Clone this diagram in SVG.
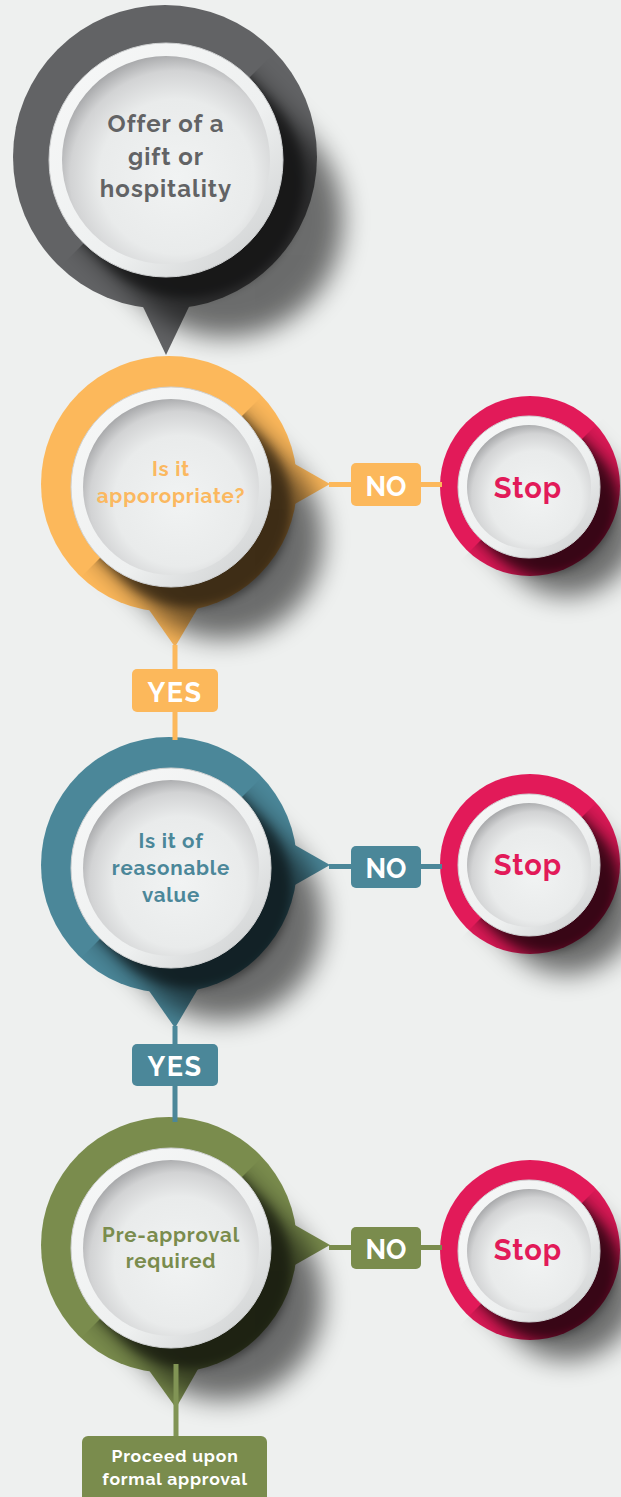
<svg xmlns="http://www.w3.org/2000/svg" width="621" height="1497" viewBox="0 0 621 1497">
  <defs>
    <style>
      .t { font-family: Raleway, "Open Sans", "Liberation Sans", sans-serif; font-weight: 700; text-anchor: middle; }
      .lbl { fill: #ffffff; }
      .ring { fill: url(#ringGrad); stroke: #cfd1d2; stroke-width: 1; }
      .face { fill: url(#faceGrad); }
      .shadowA { fill: #000; opacity: 0.55; }
      .shadowB { fill: #000; opacity: 0.45; }
      .conn { stroke-width: 5; fill: none; }
    </style>
    <filter id="blurL" x="-50%" y="-50%" width="200%" height="200%"><feGaussianBlur stdDeviation="13"/></filter>
    <filter id="blurS" x="-50%" y="-50%" width="200%" height="200%"><feGaussianBlur stdDeviation="5"/></filter>
    <radialGradient id="faceGrad" cx="55%" cy="58%" r="60%">
      <stop offset="0" stop-color="#f1f3f3"/>
      <stop offset="0.62" stop-color="#e9ebeb"/>
      <stop offset="0.85" stop-color="#d2d3d4"/>
      <stop offset="1" stop-color="#a4a5a7"/>
    </radialGradient>
    <linearGradient id="ringGrad" x1="0" y1="0" x2="1" y2="1">
      <stop offset="0" stop-color="#f7f8f8"/>
      <stop offset="0.6" stop-color="#eef0f0"/>
      <stop offset="1" stop-color="#c9cbcc"/>
    </linearGradient>
    <clipPath id="clipDiag" clipPathUnits="userSpaceOnUse">
      <polygon points="-500,505 505,-500 800,800"/>
    </clipPath>
  </defs>

  <rect x="0" y="0" width="621" height="1497" fill="#eef0ef"/>

  <!-- Start node -->
  <g id="node-offer" transform="translate(165,157)">
    <circle cx="0" cy="0" r="152" fill="#626365"/>
    <polygon points="-30,133 32,133 1,198" fill="#626365"/>
    <g clip-path="url(#clipDiag)">
      <g class="shadowA" filter="url(#blurL)">
        <circle cx="1" cy="3" r="117"/>
        <circle cx="61" cy="63" r="117"/>
        <polygon points="83.7,-79.7 -81.7,85.7 -21.7,145.7 143.7,-19.7"/>
      </g>
      <g class="shadowB" filter="url(#blurS)">
        <circle cx="1" cy="3" r="117"/>
        <circle cx="22" cy="24" r="117"/>
        <polygon points="83.7,-79.7 -81.7,85.7 -60.7,106.7 104.7,-58.7"/>
      </g>
    </g>
    <circle class="ring" cx="1" cy="3" r="117"/>
    <circle class="face" cx="1" cy="3" r="104"/>
    <text class="t" x="1" y="-25" font-size="24" fill="#626365" letter-spacing="1">Offer of a</text>
    <text class="t" x="1" y="8" font-size="24" fill="#626365" letter-spacing="1">gift or</text>
    <text class="t" x="1" y="40" font-size="24" fill="#626365" letter-spacing="1">hospitality</text>
  </g>

  <!-- Decision 1 -->
  <g id="node-appropriate" transform="translate(169,484)">
    <circle cx="0" cy="0" r="128" fill="#fcb85b"/>
    <polygon points="110,-29 161,0 110,29" fill="#fcb85b"/>
    <polygon points="-31,110 37,110 6,163" fill="#fcb85b"/>
    <g clip-path="url(#clipDiag)">
      <g class="shadowA" filter="url(#blurL)">
        <circle cx="2" cy="3" r="100"/>
        <circle cx="54" cy="55" r="100"/>
        <polygon points="72.7,-67.7 -68.7,73.7 -16.7,125.7 124.7,-15.7"/>
      </g>
      <g class="shadowB" filter="url(#blurS)">
        <circle cx="2" cy="3" r="100"/>
        <circle cx="22" cy="23" r="100"/>
        <polygon points="72.7,-67.7 -68.7,73.7 -48.7,93.7 92.7,-47.7"/>
      </g>
    </g>
    <circle class="ring" cx="2" cy="3" r="100"/>
    <circle class="face" cx="2" cy="3" r="88"/>
    <text class="t" x="2" y="-8" font-size="20.5" fill="#fbb860" letter-spacing="0.8">Is it</text>
    <text class="t" x="2" y="19" font-size="20.5" fill="#fbb860" letter-spacing="0.8">apporopriate?</text>
  </g>

  <!-- Decision 2 -->
  <g id="node-value" transform="translate(169,865)">
    <circle cx="0" cy="0" r="128" fill="#4b8799"/>
    <polygon points="110,-29 161,0 110,29" fill="#4b8799"/>
    <polygon points="-31,110 37,110 6,163" fill="#4b8799"/>
    <g clip-path="url(#clipDiag)">
      <g class="shadowA" filter="url(#blurL)">
        <circle cx="2" cy="3" r="100"/>
        <circle cx="54" cy="55" r="100"/>
        <polygon points="72.7,-67.7 -68.7,73.7 -16.7,125.7 124.7,-15.7"/>
      </g>
      <g class="shadowB" filter="url(#blurS)">
        <circle cx="2" cy="3" r="100"/>
        <circle cx="22" cy="23" r="100"/>
        <polygon points="72.7,-67.7 -68.7,73.7 -48.7,93.7 92.7,-47.7"/>
      </g>
    </g>
    <circle class="ring" cx="2" cy="3" r="100"/>
    <circle class="face" cx="2" cy="3" r="88"/>
    <text class="t" x="2" y="-17" font-size="20.5" fill="#4b8799" letter-spacing="0.8">Is it of</text>
    <text class="t" x="2" y="10" font-size="20.5" fill="#4b8799" letter-spacing="0.8">reasonable</text>
    <text class="t" x="2" y="37" font-size="20.5" fill="#4b8799" letter-spacing="0.8">value</text>
  </g>

  <!-- Decision 3 -->
  <g id="node-preapproval" transform="translate(169,1245)">
    <circle cx="0" cy="0" r="128" fill="#7a8c4d"/>
    <polygon points="110,-29 161,0 110,29" fill="#7a8c4d"/>
    <polygon points="-31,110 37,110 7,163" fill="#7a8c4d"/>
    <g clip-path="url(#clipDiag)">
      <g class="shadowA" filter="url(#blurL)">
        <circle cx="2" cy="3" r="100"/>
        <circle cx="54" cy="55" r="100"/>
        <polygon points="72.7,-67.7 -68.7,73.7 -16.7,125.7 124.7,-15.7"/>
      </g>
      <g class="shadowB" filter="url(#blurS)">
        <circle cx="2" cy="3" r="100"/>
        <circle cx="22" cy="23" r="100"/>
        <polygon points="72.7,-67.7 -68.7,73.7 -48.7,93.7 92.7,-47.7"/>
      </g>
    </g>
    <circle class="ring" cx="2" cy="3" r="100"/>
    <circle class="face" cx="2" cy="3" r="88"/>
    <text class="t" x="2" y="-3" font-size="20.5" fill="#7a8c4d" letter-spacing="0.8">Pre-approval</text>
    <text class="t" x="2" y="23" font-size="20.5" fill="#7a8c4d" letter-spacing="0.8">required</text>
  </g>

  <!-- Stop nodes -->
  <g id="node-stop-1" transform="translate(530,486)">
    <circle cx="0" cy="0" r="90" fill="#e21a59"/>
    <g clip-path="url(#clipDiag)">
      <g class="shadowA" filter="url(#blurL)">
        <circle cx="-1" cy="1" r="71"/>
        <circle cx="37" cy="39" r="71"/>
        <polygon points="49.2,-49.2 -51.2,51.2 -13.2,89.2 87.2,-11.2"/>
      </g>
      <g class="shadowB" filter="url(#blurS)">
        <circle cx="-1" cy="1" r="71"/>
        <circle cx="14" cy="16" r="71"/>
        <polygon points="49.2,-49.2 -51.2,51.2 -36.2,66.2 64.2,-34.2"/>
      </g>
    </g>
    <circle class="ring" cx="-1" cy="1" r="71"/>
    <circle class="face" cx="-1" cy="1" r="62"/>
    <text class="t" x="-2" y="12" font-size="29" fill="#e21a59" letter-spacing="1">Stop</text>
  </g>

  <g id="node-stop-2" transform="translate(530,864)">
    <circle cx="0" cy="0" r="90" fill="#e21a59"/>
    <g clip-path="url(#clipDiag)">
      <g class="shadowA" filter="url(#blurL)">
        <circle cx="-1" cy="1" r="71"/>
        <circle cx="37" cy="39" r="71"/>
        <polygon points="49.2,-49.2 -51.2,51.2 -13.2,89.2 87.2,-11.2"/>
      </g>
      <g class="shadowB" filter="url(#blurS)">
        <circle cx="-1" cy="1" r="71"/>
        <circle cx="14" cy="16" r="71"/>
        <polygon points="49.2,-49.2 -51.2,51.2 -36.2,66.2 64.2,-34.2"/>
      </g>
    </g>
    <circle class="ring" cx="-1" cy="1" r="71"/>
    <circle class="face" cx="-1" cy="1" r="62"/>
    <text class="t" x="-2" y="11" font-size="29" fill="#e21a59" letter-spacing="1">Stop</text>
  </g>

  <g id="node-stop-3" transform="translate(530,1250)">
    <circle cx="0" cy="0" r="90" fill="#e21a59"/>
    <g clip-path="url(#clipDiag)">
      <g class="shadowA" filter="url(#blurL)">
        <circle cx="-1" cy="1" r="71"/>
        <circle cx="37" cy="39" r="71"/>
        <polygon points="49.2,-49.2 -51.2,51.2 -13.2,89.2 87.2,-11.2"/>
      </g>
      <g class="shadowB" filter="url(#blurS)">
        <circle cx="-1" cy="1" r="71"/>
        <circle cx="14" cy="16" r="71"/>
        <polygon points="49.2,-49.2 -51.2,51.2 -36.2,66.2 64.2,-34.2"/>
      </g>
    </g>
    <circle class="ring" cx="-1" cy="1" r="71"/>
    <circle class="face" cx="-1" cy="1" r="62"/>
    <text class="t" x="-2" y="10" font-size="29" fill="#e21a59" letter-spacing="1">Stop</text>
  </g>

  <!-- Connectors -->
  <g id="connectors">
    <line class="conn" x1="329" y1="484.5" x2="442" y2="484.5" stroke="#fcb85b"/>
    <line class="conn" x1="175" y1="645" x2="175" y2="740" stroke="#fcb85b"/>
    <rect x="351" y="463" width="70" height="43" rx="5" fill="#fcb85b"/>
    <text class="t lbl" x="386" y="496" font-size="27">NO</text>
    <rect x="132" y="669" width="86" height="43" rx="5" fill="#fcb85b"/>
    <text class="t lbl" x="175" y="702" font-size="27" letter-spacing="1.5">YES</text>

    <line class="conn" x1="329" y1="866.5" x2="442" y2="866.5" stroke="#4b8799"/>
    <line class="conn" x1="175" y1="1026" x2="175" y2="1122" stroke="#4b8799"/>
    <rect x="351" y="846" width="70" height="42" rx="5" fill="#4b8799"/>
    <text class="t lbl" x="386" y="878" font-size="27">NO</text>
    <rect x="132" y="1044" width="86" height="42" rx="5" fill="#4b8799"/>
    <text class="t lbl" x="175" y="1076" font-size="27" letter-spacing="1.5">YES</text>

    <line class="conn" x1="329" y1="1247.5" x2="442" y2="1247.5" stroke="#7a8c4d"/>
    <line class="conn" x1="176" y1="1364" x2="176" y2="1438" stroke="#819455"/>
    <rect x="351" y="1227" width="70" height="42" rx="5" fill="#7a8c4d"/>
    <text class="t lbl" x="386" y="1259" font-size="27">NO</text>
    <rect x="82" y="1436" width="185" height="70" rx="6" fill="#7a8c4d"/>
    <text class="t lbl" x="175" y="1462" font-size="17.5" font-weight="600" letter-spacing="0.8">Proceed upon</text>
    <text class="t lbl" x="175" y="1485" font-size="17.5" font-weight="600" letter-spacing="0.8">formal approval</text>
  </g>
</svg>
